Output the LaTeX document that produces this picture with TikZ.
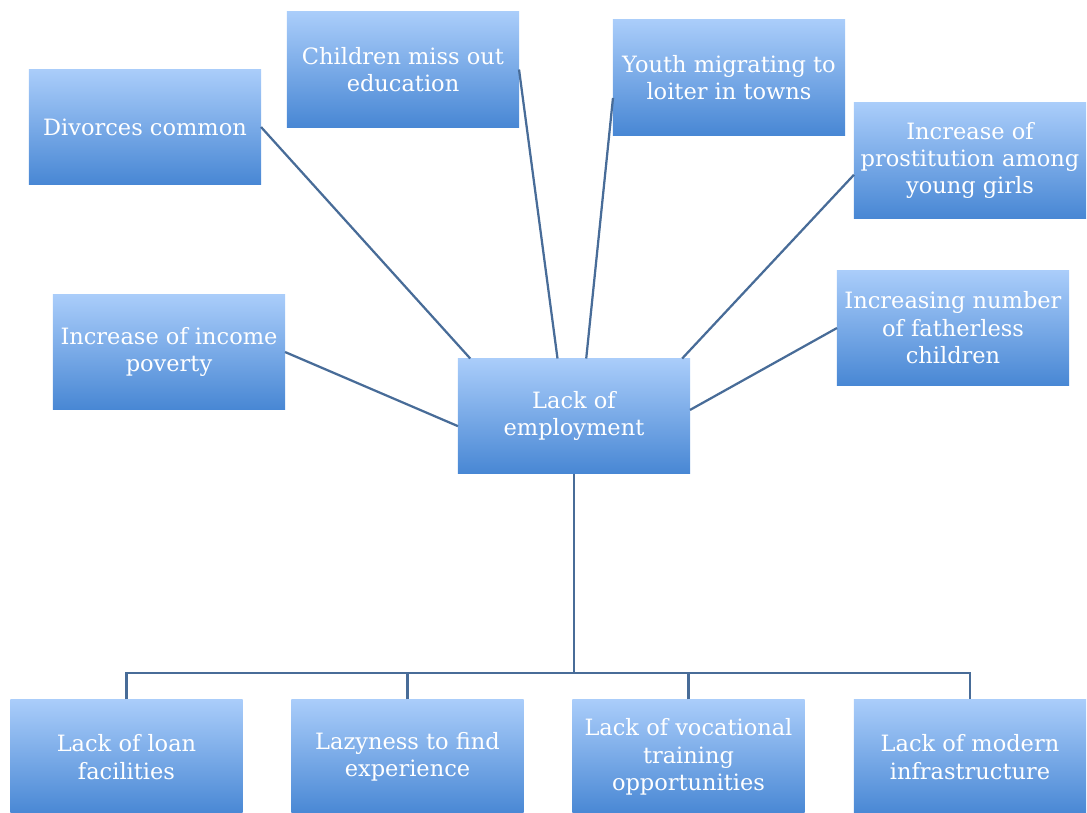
\documentclass[tikz,border=0pt]{standalone}
\usepackage{fontspec}
\setmainfont{DejaVu Serif}
\usepackage{tikz}
\usetikzlibrary{calc}
\definecolor{boxtop}{RGB}{170,205,250}
\definecolor{boxbot}{RGB}{72,135,212}
\definecolor{linkcol}{RGB}{72,108,152}

\begin{document}
\begin{tikzpicture}[x=0.025cm,y=-0.025cm,
    box/.style={rectangle, top color=boxtop, bottom color=boxbot,
        minimum width=5.8cm, minimum height=2.875cm, inner sep=0pt, outer sep=0pt,
        align=center, text=white, font=\fontsize{16}{19.5}\selectfont},
    link/.style={draw=linkcol, line width=1.6pt}]
            % Khung
            \useasboundingbox (0,0) rectangle (1087,812);
            \clip (0,0) rectangle (1087,812);
            % Ô trung tâm
            \node[box] (emp) at (574,416) {Lack of\\employment};
            % Các hậu quả
            \node[box] (div) at (145,127) {Divorces common};
            \node[box] (child) at (403,69.5) {Children miss out\\education};
            \node[box] (youth) at (729,77.5) {Youth migrating to\\loiter in towns};
            \node[box] (prost) at (970,160.5) {Increase of\\prostitution among\\young girls};
            \node[box] (pov) at (169,352) {Increase of income\\poverty};
            \node[box] (father) at (953,328) {Increasing number\\of fatherless\\children};
            % Các nguyên nhân
            \node[box] (loan) at (126.5,757) {Lack of loan\\facilities};
            \node[box] (lazy) at (407.5,757) {Lazyness to find\\experience};
            \node[box] (voc) at (688.5,757) {Lack of vocational\\training\\opportunities};
            \node[box] (infra) at (970,757) {Lack of modern\\infrastructure};
            % Đường nối phía trên
            \draw[link] (div.east) -- (emp.151);
            \draw[link] (child.east) -- (emp.106);
            \draw[link] (youth.190) -- (emp.78);
            \draw[link] (prost.187) -- (emp.28);
            \draw[link] (pov.east) -- (emp.185);
            \draw[link] (father.west) -- (emp.3);
            % Đường nối phía dưới
            \coordinate (bus) at (0,673);
            \draw[link] (emp.south) -- (emp.south |- bus);
            \draw[link] (loan.north) |- (infra.north |- bus) -- (infra.north);
            \draw[link] (lazy.north) -- (lazy.north |- bus);
            \draw[link] (voc.north) -- (voc.north |- bus);
        \end{tikzpicture}
\end{document}
